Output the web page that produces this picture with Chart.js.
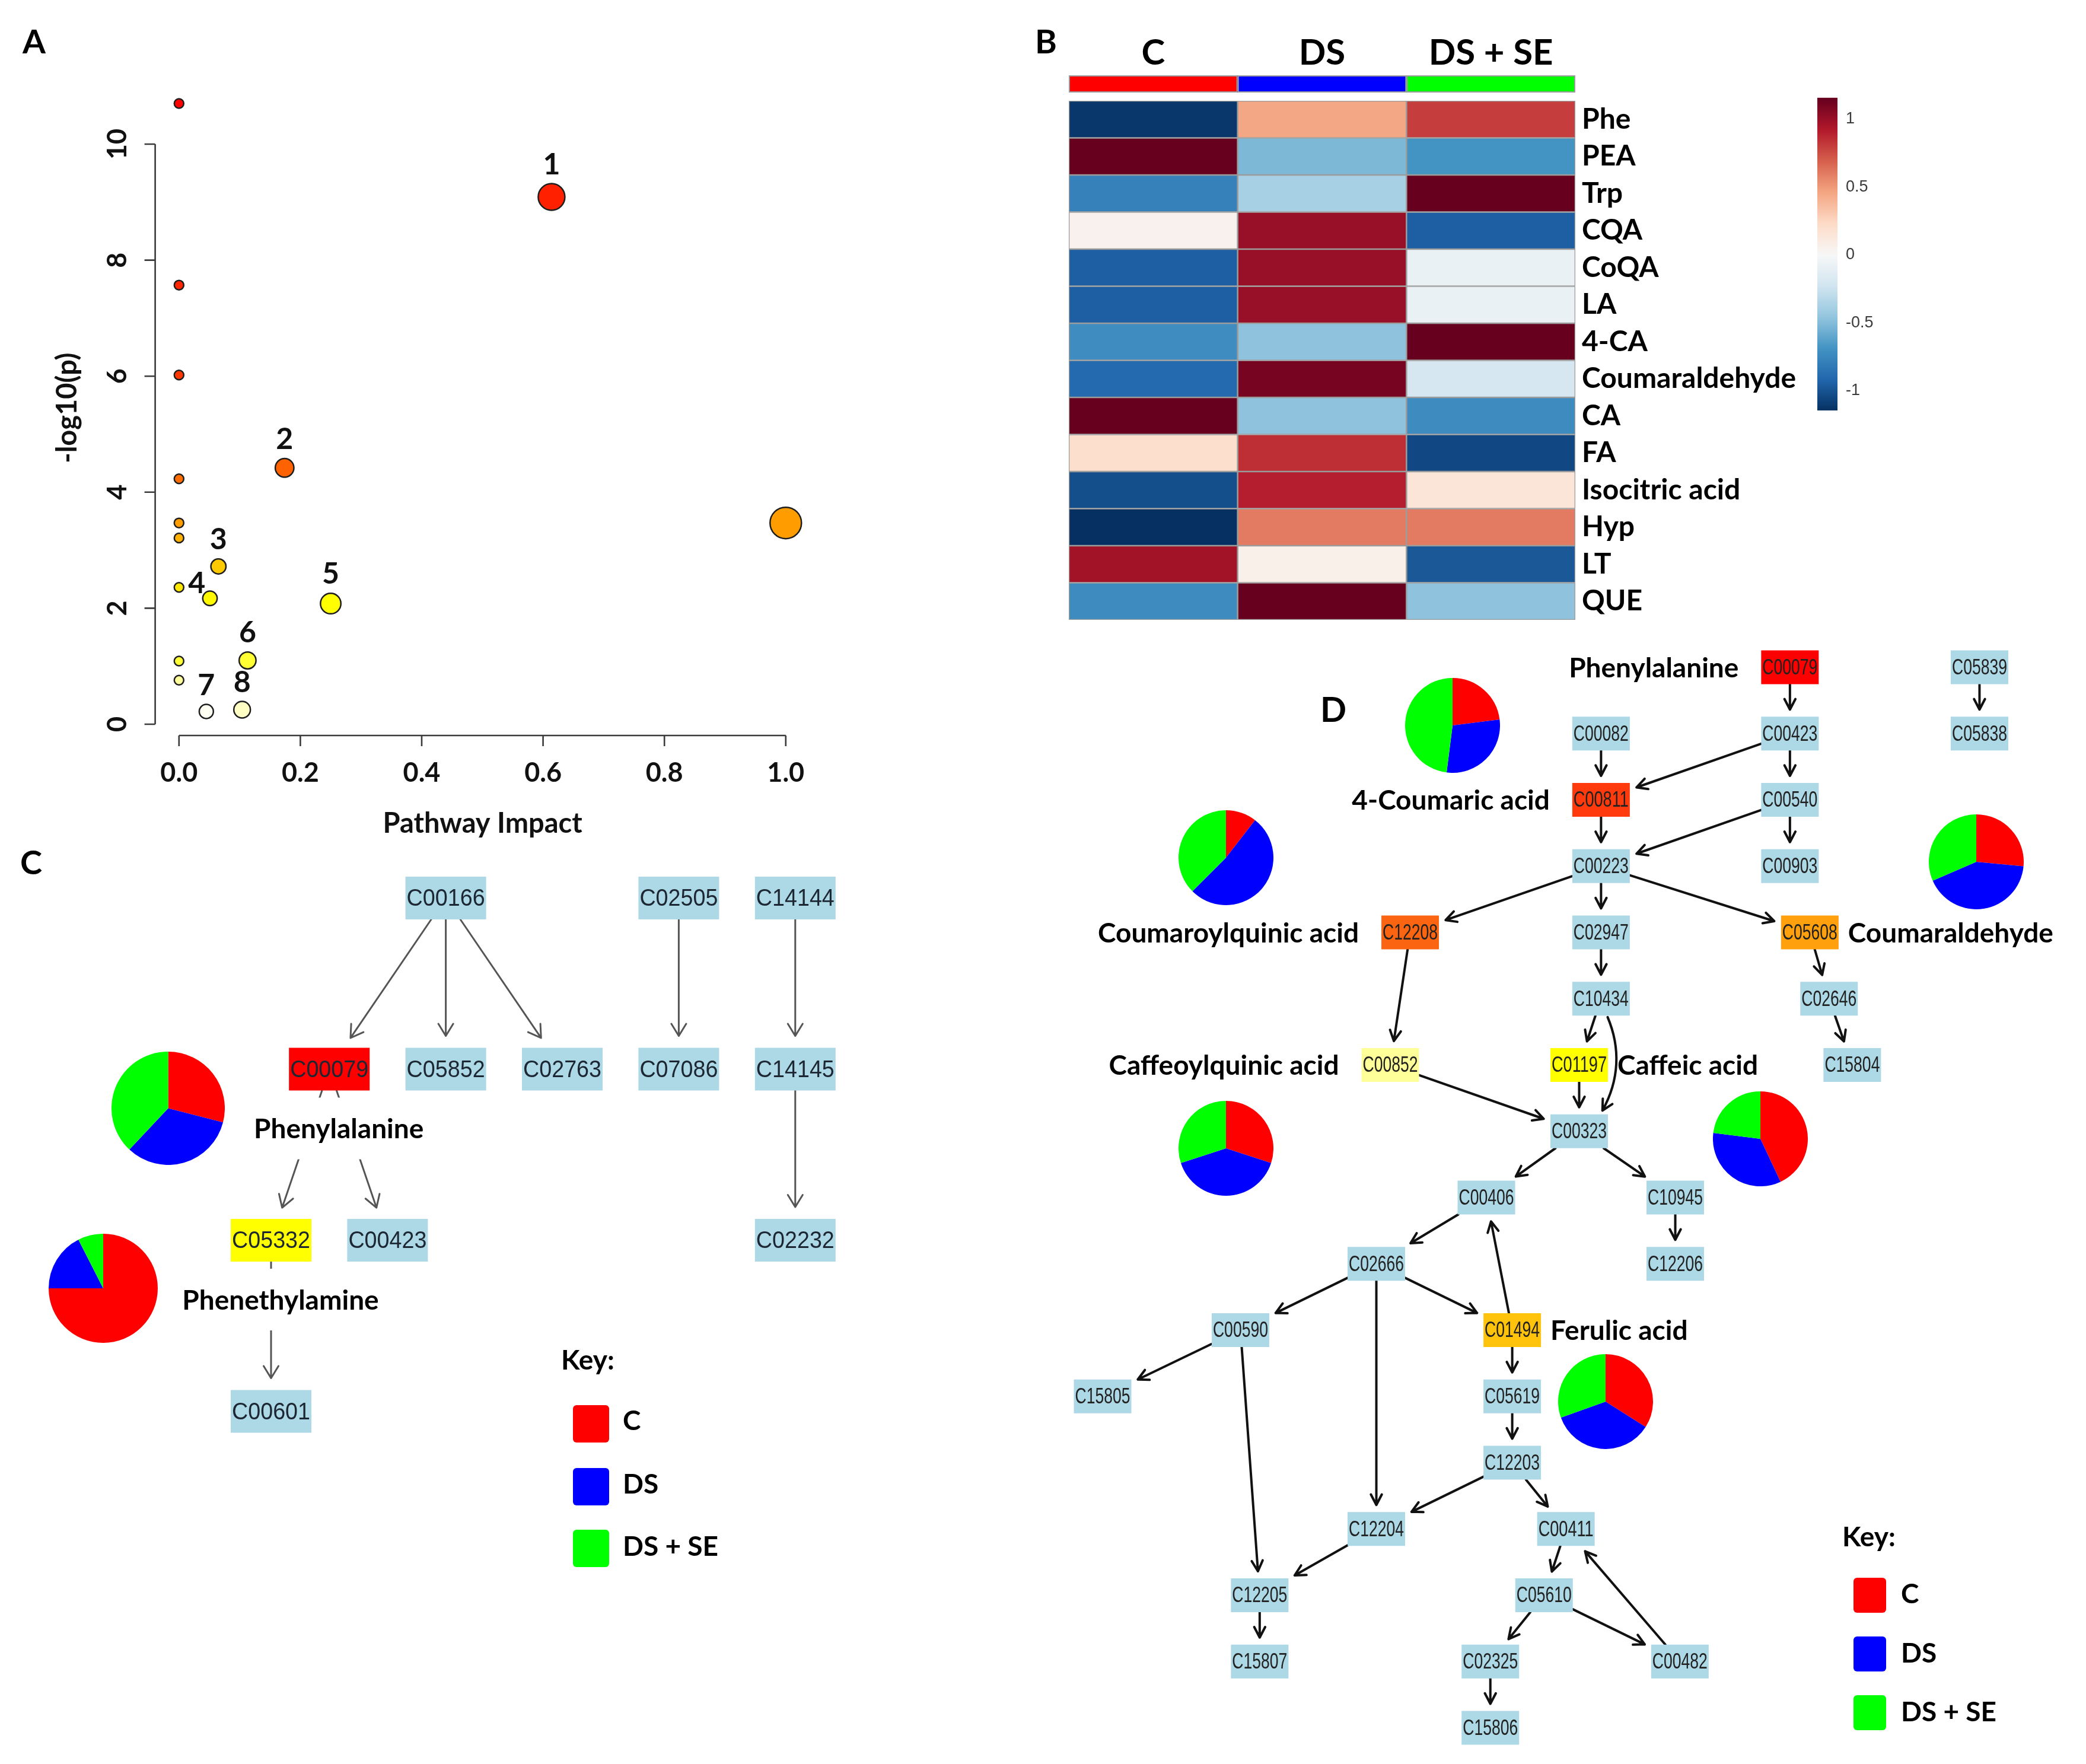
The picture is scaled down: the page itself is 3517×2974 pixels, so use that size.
<!DOCTYPE html>
<html>
<head>
<meta charset="utf-8">
<title>Pathway analysis</title>
<script src="https://cdn.jsdelivr.net/npm/chart.js@4.4.1/dist/chart.umd.min.js"></script>
<style>
  html, body { margin: 0; padding: 0; background: #fff; }
  #page { position: relative; width: 3517px; height: 2974px; overflow: hidden; background: #fff;
          font-family: Lato, "Open Sans", sans-serif; font-weight: 700; color: #000; }
  #page canvas { position: absolute; }
  .lbl { position: absolute; white-space: nowrap; line-height: 1; transform: translateY(-50%); }
  .sw { position: absolute; border-radius: 6px; }
</style>
</head>
<body>
<div id="page">
  <canvas id="chartA" width="1435" height="1435" style="left:0;top:0"></canvas>
  <canvas id="chartB" width="1320" height="1100" style="left:1740px;top:0"></canvas>
  <canvas id="chartBar" width="250" height="650" style="left:3000px;top:100px"></canvas>
  <canvas id="chartC" width="1435" height="1270" style="left:0;top:1430px"></canvas>
  <canvas id="chartD" width="1737" height="1914" style="left:1780px;top:1060px"></canvas>

  <div class="lbl" style="left:38px;top:69px;font-size:56px">A</div>
  <div class="lbl" style="left:1745px;top:69px;font-size:56px">B</div>
  <div class="lbl" style="left:34px;top:1453px;font-size:56px">C</div>
  <div class="lbl" style="left:2226px;top:1195px;font-size:58px">D</div>

  <div class="lbl" style="left:946px;top:2292px;font-size:46px">Key:</div>
  <div class="sw" style="left:966px;top:2369px;width:61px;height:63px;background:#ff0000"></div>
  <div class="sw" style="left:966px;top:2475px;width:61px;height:63px;background:#0000ff"></div>
  <div class="sw" style="left:966px;top:2579px;width:61px;height:63px;background:#00ff00"></div>
  <div class="lbl" style="left:1050px;top:2394px;font-size:46px">C</div>
  <div class="lbl" style="left:1050px;top:2501px;font-size:46px">DS</div>
  <div class="lbl" style="left:1050px;top:2606px;font-size:46px">DS + SE</div>

  <div class="lbl" style="left:3106px;top:2590px;font-size:46px">Key:</div>
  <div class="sw" style="left:3125px;top:2660px;width:55px;height:59px;background:#ff0000"></div>
  <div class="sw" style="left:3125px;top:2759px;width:55px;height:59px;background:#0000ff"></div>
  <div class="sw" style="left:3125px;top:2858px;width:55px;height:59px;background:#00ff00"></div>
  <div class="lbl" style="left:3205px;top:2686px;font-size:46px">C</div>
  <div class="lbl" style="left:3205px;top:2786px;font-size:46px">DS</div>
  <div class="lbl" style="left:3205px;top:2885px;font-size:46px">DS + SE</div>
</div>
<script>
// ---- A: pathway impact vs -log10(p) ----
const pathImpact = [0, 0, 0, 0, 0, 0, 0, 0, 0, 0.614, 0.174, 0.065, 0.051, 0.25, 0.113, 0.045, 0.104, 1.0];
const pathLogP   = [10.70, 7.57, 6.02, 4.23, 3.47, 3.21, 2.36, 1.09, 0.76, 9.09, 4.42, 2.72, 2.17, 2.08, 1.10, 0.22, 0.25, 3.47];
const pathLabels = ['', '', '', '', '', '', '', '', '', '1', '2', '3', '4', '5', '6', '7', '8', ''];
const impactTicks = [0, 0.2, 0.4, 0.6, 0.8, 1.0];
const logPTicks = [0, 2, 4, 6, 8, 10];

// ---- B: heatmap (scaled abundance) ----
const heatRows = ['Phe', 'PEA', 'Trp', 'CQA', 'CoQA', 'LA', '4-CA', 'Coumaraldehyde', 'CA', 'FA', 'Isocitric acid', 'Hyp', 'LT', 'QUE'];
const groups = ['C', 'DS', 'DS + SE'];
const heatC    = [-1.12, 1.15, -0.78, 0.05, -0.95, -0.95, -0.72, -0.9, 1.15, 0.2, -1.02, -1.15, 0.97, -0.73];
const heatDS   = [0.45, -0.52, -0.38, 1.0, 1.0, 1.0, -0.47, 1.1, -0.47, 0.85, 0.9, 0.6, 0.06, 1.15];
const heatDSSE = [0.8, -0.69, 1.15, -0.95, -0.08, -0.08, 1.15, -0.2, -0.73, -1.05, 0.15, 0.6, -0.98, -0.47];
const scaleTicks = [-1, -0.5, 0, 0.5, 1];
const scaleRange = [-1.146, 1.157];

// ---- pies: share of each group per compound ----
const pieCompounds = ['Phenylalanine', 'Phenethylamine', '4-Coumaric acid', 'Coumaroylquinic acid',
                      'Coumaraldehyde', 'Caffeoylquinic acid', 'Caffeic acid', 'Ferulic acid'];
const pieShareC    = [0.29, 0.75, 0.23, 0.105, 0.265, 0.30, 0.43, 0.34];
const pieShareDS   = [0.33, 0.175, 0.29, 0.52, 0.42, 0.40, 0.34, 0.355];
const pieShareDSSE = [0.38, 0.075, 0.48, 0.375, 0.315, 0.30, 0.23, 0.305];

// ---- C: network (KEGG id, column, row) ----
const nodesC = [
  ['C00166', 3, 0], ['C02505', 7, 0], ['C14144', 9, 0],
  ['C00079', 1, 1], ['C05852', 3, 1], ['C02763', 5, 1], ['C07086', 7, 1], ['C14145', 9, 1],
  ['C05332', 0, 2], ['C00423', 2, 2], ['C02232', 9, 2],
  ['C00601', 0, 3]
];
const edgesC = [
  ['C00166', 'C00079'], ['C00166', 'C05852'], ['C00166', 'C02763'], ['C02505', 'C07086'],
  ['C14144', 'C14145'], ['C14145', 'C02232'], ['C00079', 'C05332'], ['C00079', 'C00423'],
  ['C05332', 'C00601']
];
const hitsC = { C00079: '#ff0000', C05332: '#ffff00' };

// ---- D: network (KEGG id, layout x, row) ----
const nodesD = [
  ['C00079', 10.37, 0], ['C05839', 13.23, 0],
  ['C00082', 7.52, 1], ['C00423', 10.37, 1], ['C05838', 13.23, 1],
  ['C00811', 7.52, 2], ['C00540', 10.37, 2],
  ['C00223', 7.52, 3], ['C00903', 10.37, 3],
  ['C12208', 4.64, 4], ['C02947', 7.52, 4], ['C05608', 10.67, 4],
  ['C10434', 7.52, 5], ['C02646', 10.96, 5],
  ['C00852', 4.34, 6], ['C01197', 7.19, 6], ['C15804', 11.31, 6],
  ['C00323', 7.19, 7],
  ['C00406', 5.79, 8], ['C10945', 8.64, 8],
  ['C02666', 4.13, 9], ['C12206', 8.64, 9],
  ['C00590', 2.08, 10], ['C01494', 6.18, 10],
  ['C15805', 0, 11], ['C05619', 6.18, 11],
  ['C12203', 6.18, 12],
  ['C12204', 4.13, 13], ['C00411', 6.99, 13],
  ['C12205', 2.37, 14], ['C05610', 6.66, 14],
  ['C15807', 2.37, 15], ['C02325', 5.85, 15], ['C00482', 8.71, 15],
  ['C15806', 5.85, 16]
];
const edgesD = [
  ['C00079', 'C00423'], ['C05839', 'C05838'], ['C00082', 'C00811'], ['C00423', 'C00811'],
  ['C00423', 'C00540'], ['C00811', 'C00223'], ['C00540', 'C00223'], ['C00540', 'C00903'],
  ['C00223', 'C12208'], ['C00223', 'C02947'], ['C00223', 'C05608'], ['C02947', 'C10434'],
  ['C05608', 'C02646'], ['C12208', 'C00852'], ['C10434', 'C01197'], ['C10434', 'C00323'],
  ['C02646', 'C15804'], ['C00852', 'C00323'], ['C01197', 'C00323'], ['C00323', 'C00406'],
  ['C00323', 'C10945'], ['C00406', 'C02666'], ['C10945', 'C12206'], ['C02666', 'C00590'],
  ['C02666', 'C12204'], ['C02666', 'C01494'], ['C01494', 'C00406'], ['C00590', 'C15805'],
  ['C00590', 'C12205'], ['C01494', 'C05619'], ['C05619', 'C12203'], ['C12203', 'C12204'],
  ['C12203', 'C00411'], ['C12204', 'C12205'], ['C00411', 'C05610'], ['C12205', 'C15807'],
  ['C05610', 'C02325'], ['C05610', 'C00482'], ['C00482', 'C00411'], ['C02325', 'C15806']
];
const hitsD = { C00079: '#ff0000', C00811: '#ff3a0c', C12208: '#fb6512', C05608: '#ffa00c',
                C01494: '#ffc30c', C01197: '#ffff00', C00852: '#ffff99' };

// ---------------- helpers ----------------
const groupColors = ['#ff0000', '#0000ff', '#00ff00'];
const boldFont = size => ({ family: 'Lato', weight: 'bold', size: size });

function mix(c1, c2, t) {
  const a = parseInt(c1.slice(1), 16), b = parseInt(c2.slice(1), 16);
  const ch = s => Math.round(((a >> s) & 255) * (1 - t) + ((b >> s) & 255) * t);
  return 'rgb(' + ch(16) + ',' + ch(8) + ',' + ch(0) + ')';
}
function ramp(stops, v) {
  if (v <= stops[0][0]) return stops[0][1];
  for (let i = 1; i < stops.length; i++) {
    if (v <= stops[i][0]) {
      const t = (v - stops[i - 1][0]) / (stops[i][0] - stops[i - 1][0]);
      return mix(stops[i - 1][1], stops[i][1], t);
    }
  }
  return stops[stops.length - 1][1];
}
const heatStops = [[0.22, '#fffff4'], [0.25, '#ffffc4'], [0.8, '#ffff99'], [1.1, '#ffff33'], [2.1, '#ffff00'],
                   [2.4, '#ffe400'], [2.75, '#ffc600'], [3.25, '#ffae00'], [3.5, '#ff9a00'], [4.25, '#ff6c00'],
                   [4.45, '#ff6000'], [6.0, '#ff3800'], [7.6, '#ff2600'], [9.1, '#ff2000'], [10.7, '#ff0000']];
const rdbuList = ['#053061', '#2166ac', '#4393c3', '#92c5de', '#d1e5f0', '#f7f7f7',
                  '#fddbc7', '#f4a582', '#d6604d', '#b2182b', '#67001f'];
const rdbuStops = rdbuList.map((c, i) => [-1.15 + i * 0.23, c]);
const rdbu = v => ramp(rdbuStops, v);
const impactRadius = v => 8 + 18.5 * Math.sqrt(v);

Chart.defaults.animation = false;
Chart.defaults.responsive = false;
Chart.defaults.events = [];
Chart.defaults.plugins.legend.display = false;
Chart.defaults.plugins.tooltip.enabled = false;

// ---------------- A ----------------
const rAxes = {
  id: 'rAxes',
  afterDraw(chart) {
    const { ctx, chartArea: ca, scales: { x, y } } = chart;
    ctx.save();
    ctx.strokeStyle = '#3a3a3a';
    ctx.lineWidth = 2.6;
    ctx.beginPath();
    ctx.moveTo(x.getPixelForValue(impactTicks[0]), ca.bottom);
    ctx.lineTo(x.getPixelForValue(impactTicks[impactTicks.length - 1]), ca.bottom);
    impactTicks.forEach(v => { const p = x.getPixelForValue(v); ctx.moveTo(p, ca.bottom); ctx.lineTo(p, ca.bottom + 18); });
    ctx.moveTo(ca.left, y.getPixelForValue(logPTicks[0]));
    ctx.lineTo(ca.left, y.getPixelForValue(logPTicks[logPTicks.length - 1]));
    logPTicks.forEach(v => { const p = y.getPixelForValue(v); ctx.moveTo(ca.left, p); ctx.lineTo(ca.left - 18, p); });
    ctx.stroke();
    ctx.restore();
  }
};
const pointNumbers = {
  id: 'pointNumbers',
  afterDatasetsDraw(chart) {
    const { ctx } = chart;
    const pts = chart.getDatasetMeta(0).data;
    ctx.save();
    ctx.font = 'bold 50px Lato';
    ctx.fillStyle = '#111';
    ctx.textAlign = 'center';
    ctx.textBaseline = 'middle';
    pts.forEach((p, i) => {
      const t = pathLabels[i];
      if (!t) return;
      const r = impactRadius(pathImpact[i]);
      if (t === '4') ctx.fillText(t, p.x - r - 10, p.y - 25);
      else ctx.fillText(t, p.x, p.y - r - 32);
    });
    ctx.restore();
  }
};

new Chart(document.getElementById('chartA'), {
  type: 'scatter',
  data: {
    datasets: [{
      data: pathImpact.map((v, i) => ({ x: v, y: pathLogP[i] })),
      pointRadius: c => impactRadius(pathImpact[c.dataIndex]),
      pointBackgroundColor: c => ramp(heatStops, pathLogP[c.dataIndex]),
      pointBorderColor: '#1e1e1e',
      pointBorderWidth: 2.5,
      clip: false
    }]
  },
  options: {
    layout: { padding: { left: 0, top: 135.4, right: 69.3, bottom: 0 } },
    scales: {
      x: {
        type: 'linear', min: -0.0393, max: 1.04,
        afterBuildTicks: s => { s.ticks = impactTicks.map(v => ({ value: v })); },
        afterFit: s => { s.height = 195; },
        grid: { display: false, drawTicks: false }, border: { display: false },
        ticks: { padding: 36, font: boldFont(45), color: '#111', callback: v => v.toFixed(1) },
        title: { display: true, text: 'Pathway Impact', font: boldFont(47), color: '#111', padding: { top: 0, bottom: 18 } }
      },
      y: {
        type: 'linear', min: -0.194, max: 11.1,
        afterBuildTicks: s => { s.ticks = logPTicks.map(v => ({ value: v })); },
        afterFit: s => { s.width = 261.6; },
        grid: { display: false, drawTicks: false }, border: { display: false },
        ticks: { minRotation: 90, maxRotation: 90, crossAlign: 'center', padding: 37, font: boldFont(45), color: '#111',
                 callback: v => String(v) },
        title: { display: true, text: '-log10(p)', font: boldFont(47), color: '#111', padding: { top: 86, bottom: 0 } }
      }
    }
  },
  plugins: [rAxes, pointNumbers]
});

// ---------------- B ----------------
const heatValues = [heatC, heatDS, heatDSSE];
const groupStrip = {
  id: 'groupStrip',
  afterDraw(chart) {
    const { ctx, scales: { x } } = chart;
    ctx.save();
    ctx.strokeStyle = '#9c9c9c';
    ctx.lineWidth = 2;
    groups.forEach((g, j) => {
      const x0 = x.getPixelForValue(j), x1 = x.getPixelForValue(j + 1);
      ctx.fillStyle = groupColors[j];
      ctx.fillRect(x0, 127, x1 - x0, 29);
      ctx.strokeRect(x0 + 1, 128, x1 - x0 - 2, 27);
    });
    ctx.restore();
  }
};
new Chart(document.getElementById('chartB'), {
  type: 'bar',
  data: {
    labels: heatRows,
    datasets: groups.map((g, j) => ({
      label: g,
      data: heatRows.map(() => 1),
      backgroundColor: c => rdbu(heatValues[j][c.dataIndex]),
      borderColor: '#9c9c9c',
      borderWidth: 1.6,
      borderSkipped: false,
      barPercentage: 1,
      categoryPercentage: 1
    }))
  },
  options: {
    indexAxis: 'y',
    layout: { padding: { left: 62, top: 0, right: 0, bottom: 55 } },
    scales: {
      x: { stacked: true, min: 0, max: 3, display: false },
      xTop: {
        type: 'category', labels: groups, position: 'top', offset: true,
        afterFit: s => { s.height = 170; },
        grid: { display: false, drawTicks: false }, border: { display: false },
        ticks: { padding: 44, font: boldFont(60), color: '#000' }
      },
      y: {
        stacked: true, position: 'right',
        afterFit: s => { s.width = 404; },
        grid: { display: false, drawTicks: false }, border: { display: false },
        ticks: { padding: 11, font: boldFont(48), color: '#000' }
      }
    }
  },
  plugins: [groupStrip]
});

// colour key
new Chart(document.getElementById('chartBar'), {
  type: 'bar',
  data: {
    labels: [''],
    datasets: [{
      data: [scaleRange],
      backgroundColor: c => {
        const ch = c.chart;
        if (!ch.chartArea) return '#cccccc';
        const y = ch.scales.y;
        const g = ch.ctx.createLinearGradient(0, y.getPixelForValue(rdbuStops[0][0]), 0, y.getPixelForValue(rdbuStops[rdbuStops.length - 1][0]));
        rdbuList.forEach((col, i) => g.addColorStop(i / (rdbuList.length - 1), col));
        return g;
      },
      borderWidth: 0,
      barPercentage: 1,
      categoryPercentage: 1
    }]
  },
  options: {
    layout: { padding: { left: 64, top: 64.7, right: 0, bottom: 58 } },
    scales: {
      x: { display: false },
      y: {
        position: 'right', min: scaleRange[0], max: scaleRange[1],
        afterBuildTicks: s => { s.ticks = scaleTicks.map(v => ({ value: v })); },
        afterFit: s => { s.width = 152; },
        grid: { display: false, drawTicks: false }, border: { display: false },
        ticks: { padding: 14, font: { family: '"Liberation Sans", Arial, sans-serif', size: 27 }, color: '#3a3a3a',
                 callback: v => String(v) }
      }
    }
  }
});

// ---------------- networks ----------------
function networkPlugin(net) {
  return {
    id: 'network',
    afterDatasetsDraw(chart) {
      const ctx = chart.ctx;
      const pts = chart.getDatasetMeta(0).data;
      const at = {};
      net.nodes.forEach((n, i) => { at[n[0]] = { x: pts[i].x, y: pts[i].y }; });
      const hw = net.boxW / 2, hh = net.boxH / 2;
      const head = (ex, ey, ang) => {
        ctx.moveTo(ex - net.headLen * Math.cos(ang - net.headAng), ey - net.headLen * Math.sin(ang - net.headAng));
        ctx.lineTo(ex, ey);
        ctx.lineTo(ex - net.headLen * Math.cos(ang + net.headAng), ey - net.headLen * Math.sin(ang + net.headAng));
      };
      ctx.save();
      ctx.strokeStyle = net.edgeColor;
      ctx.lineWidth = net.edgeWidth;
      ctx.lineCap = 'round';
      ctx.lineJoin = 'round';
      net.edges.forEach(e => {
        const a = at[e[0]], b = at[e[1]];
        const dx = b.x - a.x, dy = b.y - a.y, L = Math.hypot(dx, dy);
        const ux = dx / L, uy = dy / L, px = uy, py = -ux;
        const cut = Math.min(ux ? hw / Math.abs(ux) : Infinity, uy ? hh / Math.abs(uy) : Infinity);
        let sx = a.x + ux * cut, sy = a.y + uy * cut;
        let ex = b.x - ux * (cut + net.gap), ey = b.y - uy * (cut + net.gap);
        const bend = net.bends[e[0] + '>' + e[1]];
        ctx.beginPath();
        if (bend) {
          sx += px * bend.s; sy += py * bend.s;
          ex += px * bend.e; ey += py * bend.e;
          const len = Math.hypot(ex - sx, ey - sy);
          const c1x = sx + ux * len * 0.3 + px * bend.b1, c1y = sy + uy * len * 0.3 + py * bend.b1;
          const c2x = ex - ux * len * 0.35 + px * bend.b2, c2y = ey - uy * len * 0.35 + py * bend.b2;
          ctx.moveTo(sx, sy);
          ctx.bezierCurveTo(c1x, c1y, c2x, c2y, ex, ey);
          head(ex, ey, Math.atan2(ey - c2y, ex - c2x));
        } else {
          ctx.moveTo(sx, sy);
          ctx.lineTo(ex, ey);
          head(ex, ey, Math.atan2(uy, ux));
        }
        ctx.stroke();
      });
      // compound boxes
      ctx.textAlign = 'center';
      ctx.textBaseline = 'middle';
      ctx.font = net.boxFont;
      net.nodes.forEach(n => {
        const p = at[n[0]];
        ctx.fillStyle = net.hits[n[0]] || '#add8e6';
        ctx.fillRect(p.x - hw, p.y - hh, net.boxW, net.boxH);
        ctx.fillStyle = net.textColor;
        ctx.fillText(n[0], p.x, p.y + 2, net.boxW - 4);
      });
      // compound names
      ctx.font = 'bold 46px Lato';
      net.names.forEach(l => {
        const p = at[l[0]];
        let x = p.x, y = p.y;
        if (l[2] === 'left') { ctx.textAlign = 'right'; x = p.x - hw - net.nameGapL; }
        else if (l[2] === 'right') { ctx.textAlign = 'left'; x = p.x + hw + net.nameGapR; }
        else { ctx.textAlign = 'center'; x = p.x + 16; y = p.y + 100; }
        if (net.nameBg) {
          const w = ctx.measureText(l[1]).width + 24;
          const x0 = ctx.textAlign === 'center' ? x - w / 2 : (ctx.textAlign === 'right' ? x - w : x);
          ctx.fillStyle = '#fff';
          ctx.fillRect(x0, y - 52, w, 104);
        }
        ctx.fillStyle = '#000';
        ctx.fillText(l[1], x, y + 2);
      });
      ctx.restore();
    }
  };
}

function makeNetwork(id, net) {
  new Chart(document.getElementById(id), {
    type: 'scatter',
    data: { datasets: [{ data: net.nodes.map(n => ({ x: n[1], y: n[2] })), pointRadius: 0, pointHoverRadius: 0 }] },
    options: {
      layout: { padding: 0 },
      scales: {
        x: { display: false, min: net.xRange[0], max: net.xRange[1] },
        y: { display: false, reverse: true, min: net.yRange[0], max: net.yRange[1] }
      }
    },
    plugins: [networkPlugin(net)]
  });
}

makeNetwork('chartC', {
  nodes: nodesC, edges: edgesC, hits: hitsC, bends: {},
  names: [['C00079', 'Phenylalanine', 'below'], ['C05332', 'Phenethylamine', 'below']],
  xRange: [-457 / 98.2, (1435 - 457) / 98.2], yRange: [-84 / 288.5, (1270 - 84) / 288.5],
  boxW: 136, boxH: 72, boxFont: '40px "Liberation Sans", Arial, sans-serif', textColor: '#1c2733',
  edgeColor: '#555555', edgeWidth: 3, gap: 20, headLen: 24, headAng: 0.55,
  nameBg: true, nameGapL: 0, nameGapR: 0
});

makeNetwork('chartD', {
  nodes: nodesD, edges: edgesD, hits: hitsD,
  bends: { 'C10434>C00323': { s: 16, e: 33, b1: 30, b2: 20 } },
  names: [['C00079', 'Phenylalanine', 'left'], ['C00811', '4-Coumaric acid', 'left'],
          ['C12208', 'Coumaroylquinic acid', 'left'], ['C05608', 'Coumaraldehyde', 'right'],
          ['C00852', 'Caffeoylquinic acid', 'left'], ['C01197', 'Caffeic acid', 'right'],
          ['C01494', 'Ferulic acid', 'right']],
  xRange: [-79 / 111.75, (1737 - 79) / 111.75], yRange: [-65 / 111.75, (1914 - 65) / 111.75],
  boxW: 97, boxH: 57, boxFont: '36px "Liberation Sans", Arial, sans-serif', textColor: '#222222',
  edgeColor: '#111111', edgeWidth: 4, gap: 12, headLen: 20, headAng: 0.48,
  nameBg: false, nameGapL: 38, nameGapR: 16
});

// ---------------- pies ----------------
const pieSpots = [[283.7, 1868, 95.5], [173.5, 2172, 92], [2449, 1223, 80], [2067, 1446, 80],
                  [3332, 1453, 80], [2067, 1936, 80], [2968, 1920, 80], [2707, 2363, 80]];
pieCompounds.forEach((name, i) => {
  const [cx, cy, r] = pieSpots[i];
  const cv = document.createElement('canvas');
  cv.width = Math.round(2 * r);
  cv.height = Math.round(2 * r);
  cv.style.left = (cx - r) + 'px';
  cv.style.top = (cy - r) + 'px';
  document.getElementById('page').appendChild(cv);
  new Chart(cv, {
    type: 'pie',
    data: { labels: groups, datasets: [{ label: name, data: [pieShareC[i], pieShareDS[i], pieShareDSSE[i]],
            backgroundColor: groupColors, borderWidth: 0, hoverOffset: 0 }] },
    options: { layout: { padding: 0 } }
  });
});
</script>
</body>
</html>
